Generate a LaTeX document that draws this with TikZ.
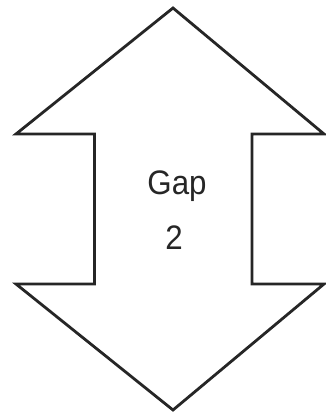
\documentclass[tikz,border=0pt]{standalone}
\usepackage{fontspec}
\setmainfont{Liberation Sans}
\begin{document}
\begin{tikzpicture}[x=1pt,y=-1pt,
  arrowshape/.style={draw=black!85, line width=2.8pt, line join=miter, fill=white},
  gaplabel/.style={font=\fontsize{34}{55}\selectfont, text=black!85, anchor=base, align=center, xscale=0.92}]
\useasboundingbox (0,0) rectangle (326,416);
\draw[arrowshape] (173,8) -- (324,134) -- (252,134) -- (252,284) -- (324,284)
  -- (173,410) -- (16,284) -- (94.5,284) -- (94.5,134) -- (16,134) -- cycle;
\node[gaplabel] (gap) at (177,194) {Gap};
\node[gaplabel] (two) at (174,249) {2};
\end{tikzpicture}
\end{document}
